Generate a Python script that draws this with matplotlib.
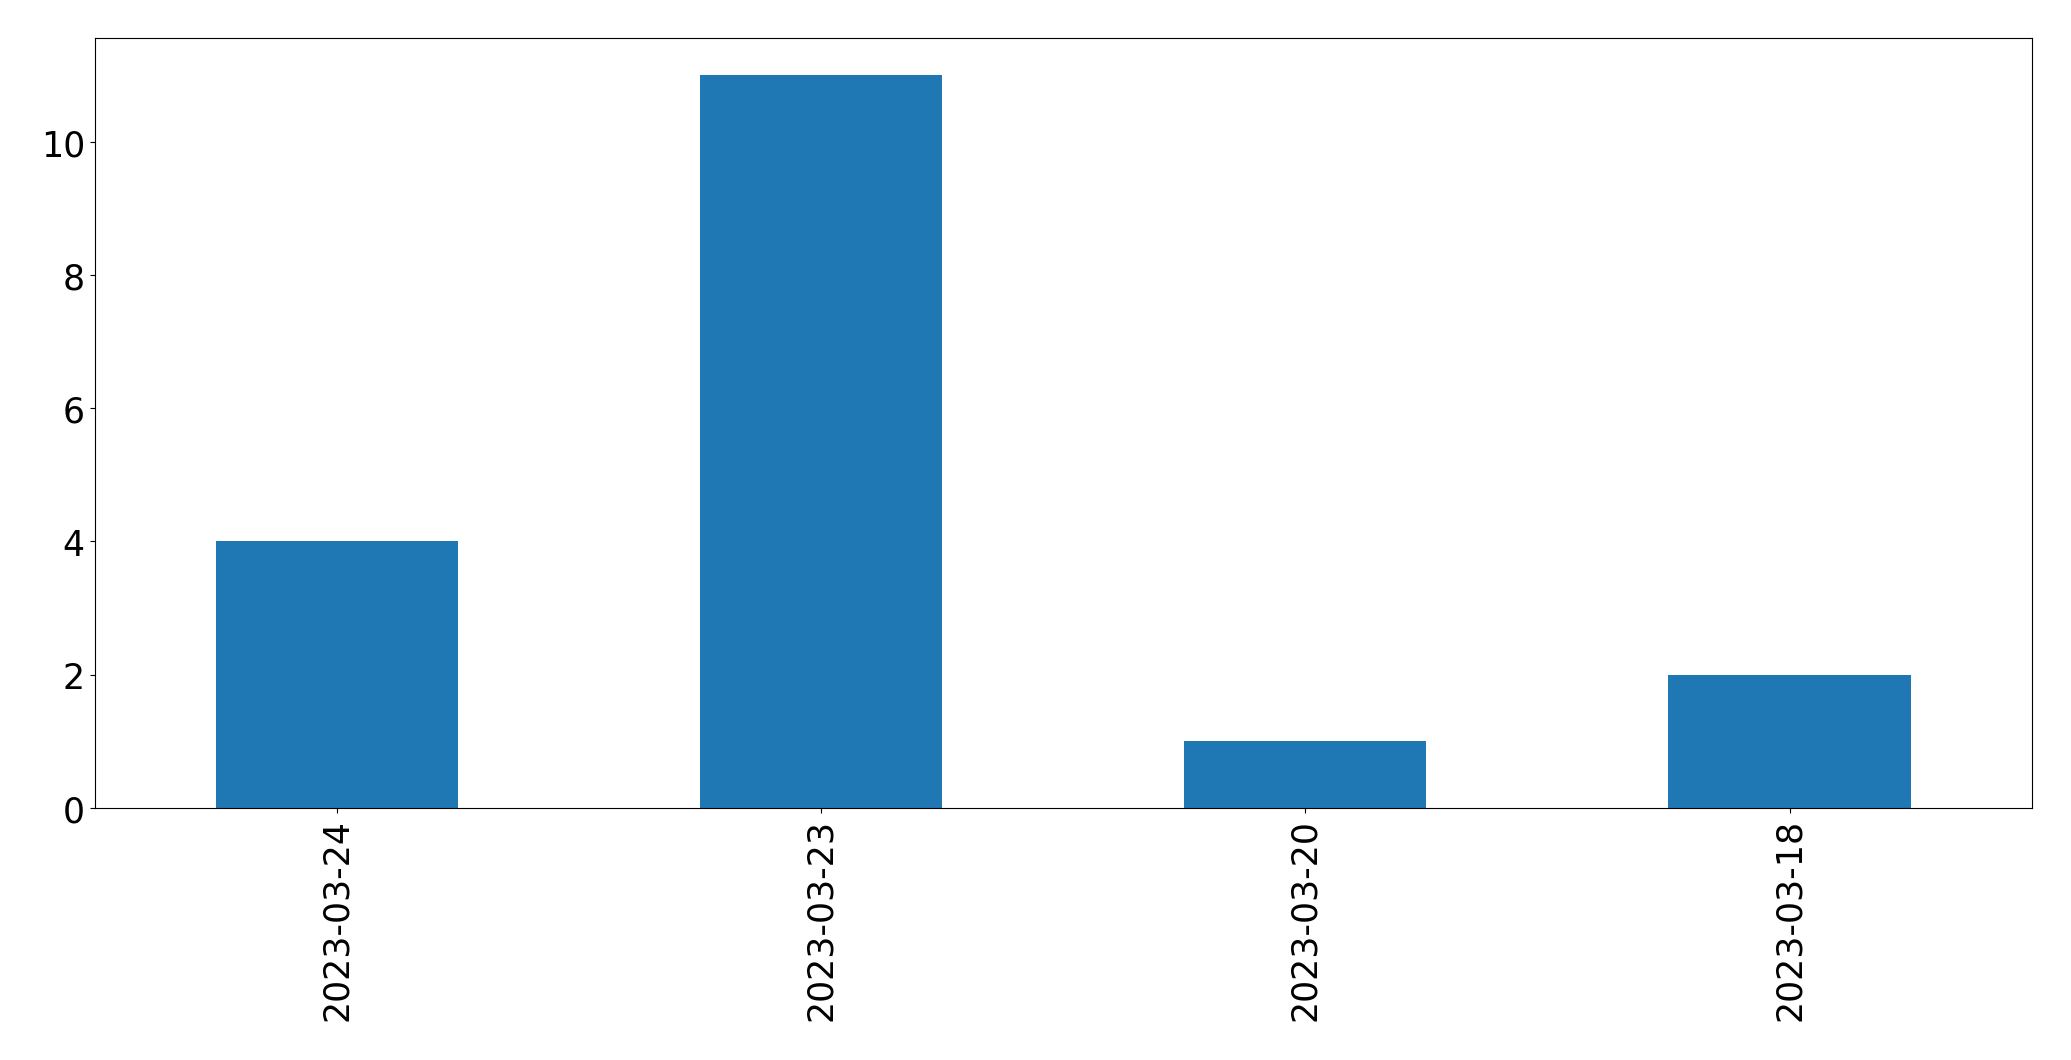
import matplotlib
matplotlib.use("Agg")
import matplotlib.pyplot as plt

dates = ["2023-03-24", "2023-03-23", "2023-03-20", "2023-03-18"]
counts = [4, 11, 1, 2]

plt.rcParams["font.size"] = 25

fig, ax = plt.subplots(figsize=(20.71, 10.609), dpi=100)
x = range(len(dates))
ax.bar(x, counts, width=0.5, color="#1f77b4")
ax.set_xticks(list(x))
ax.set_xticklabels(dates, rotation=90)
ax.set_xlim(-0.5, len(dates) - 0.5)
ax.set_ylim(0, 11.55)

fig.subplots_adjust(left=0.0457, right=0.981, top=0.963, bottom=0.2375)
fig.savefig("out.png", dpi=100)
